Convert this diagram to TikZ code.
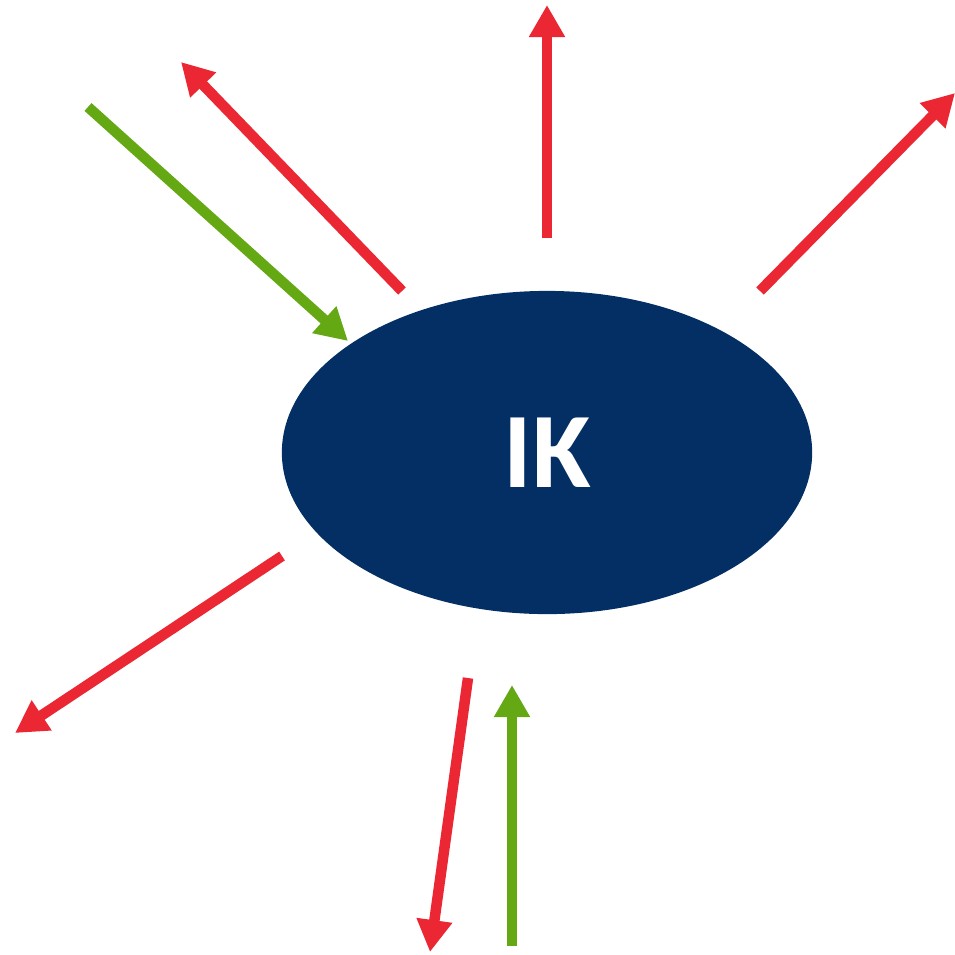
\documentclass[tikz,border=0pt]{standalone}
\usepackage{fontspec}
\setmainfont{Carlito}
\usetikzlibrary{arrows.meta,shapes.geometric}
\definecolor{ikred}{RGB}{235,39,51}
\definecolor{ikgreen}{RGB}{100,168,20}
\definecolor{iknavy}{RGB}{3,47,101}
\tikzset{
  flow/.style={line width=0.105cm,-{Triangle[length=0.32cm,width=0.34cm]}},
  outflow/.style={flow,draw=ikred,fill=ikred},
  inflow/.style={flow,draw=ikgreen,fill=ikgreen},
  core/.style={ellipse,fill=iknavy,minimum width=5.3cm,minimum height=3.23cm,inner sep=0pt,
    text=white,font=\fontsize{30.5}{36}\selectfont\bfseries}
}
\begin{document}
\begin{tikzpicture}[x=0.01cm,y=-0.01cm]
\useasboundingbox (0,0) rectangle (955,954);
\node[core] (ik) at (547,452.5) {IK};
% outgoing flows
\coordinate (o1s) at (402,291); \coordinate (o1e) at (181,62);
\coordinate (o2s) at (547,238); \coordinate (o2e) at (547,5);
\coordinate (o3s) at (760,291); \coordinate (o3e) at (955,93);
\coordinate (o4s) at (282,556); \coordinate (o4e) at (15,733);
\coordinate (o5s) at (468,678); \coordinate (o5e) at (430,952);
% incoming flows
\coordinate (i1s) at (88,107);  \coordinate (i1e) at (348,341);
\coordinate (i2s) at (512,946); \coordinate (i2e) at (512,685);
\draw[outflow] (o1s) -- (o1e);
\draw[outflow] (o2s) -- (o2e);
\draw[outflow] (o3s) -- (o3e);
\draw[outflow] (o4s) -- (o4e);
\draw[outflow] (o5s) -- (o5e);
\draw[inflow] (i1s) -- (i1e);
\draw[inflow] (i2s) -- (i2e);
\end{tikzpicture}
\end{document}
